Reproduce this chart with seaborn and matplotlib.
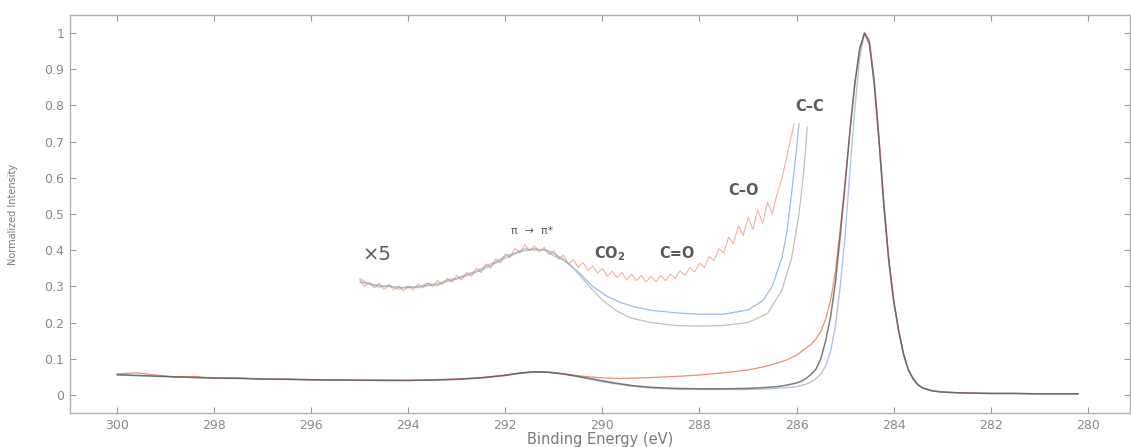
import matplotlib
matplotlib.use("Agg")
import matplotlib.pyplot as plt
import seaborn as sns
import pandas as pd

# ---------------- data ----------------
be_main = [300.0, 299.6, 299.2, 298.8, 298.4, 298.0, 297.5, 297.0, 296.5, 296.0,
           295.5, 295.0, 294.5, 294.0, 293.5, 293.0, 292.5, 292.0, 291.7, 291.4,
           291.1, 290.8, 290.5, 290.2, 290.0, 289.7, 289.4, 289.0, 288.5, 288.0,
           287.5, 287.0, 286.7, 286.4, 286.2, 286.0, 285.9, 285.8, 285.7, 285.6,
           285.5, 285.4, 285.3, 285.2, 285.1, 285.0, 284.9, 284.8, 284.7, 284.6,
           284.5, 284.4, 284.3, 284.2, 284.1, 284.0, 283.9, 283.8, 283.7, 283.6,
           283.5, 283.4, 283.2, 283.0, 282.7, 282.4, 282.0, 281.5, 281.0, 280.5,
           280.2]

grey_main = [0.056, 0.054, 0.052, 0.050, 0.048, 0.047, 0.046, 0.044, 0.043, 0.042,
             0.041, 0.041, 0.040, 0.040, 0.041, 0.043, 0.047, 0.054, 0.060, 0.064,
             0.063, 0.058, 0.051, 0.044, 0.039, 0.032, 0.026, 0.021, 0.018, 0.017,
             0.017, 0.018, 0.020, 0.023, 0.027, 0.033, 0.038, 0.046, 0.057, 0.071,
             0.100, 0.150, 0.215, 0.310, 0.440, 0.580, 0.730, 0.860, 0.955, 1.000,
             0.970, 0.860, 0.700, 0.520, 0.370, 0.260, 0.180, 0.115, 0.070, 0.045,
             0.028, 0.019, 0.011, 0.008, 0.006, 0.005, 0.004, 0.004, 0.003, 0.003,
             0.003]

red_main = [0.058, 0.061, 0.055, 0.049, 0.051, 0.046, 0.047, 0.043, 0.044, 0.041,
            0.042, 0.040, 0.041, 0.040, 0.042, 0.044, 0.048, 0.055, 0.061, 0.064,
            0.062, 0.058, 0.053, 0.049, 0.047, 0.046, 0.046, 0.048, 0.051, 0.055,
            0.061, 0.069, 0.077, 0.088, 0.097, 0.110, 0.120, 0.130, 0.140, 0.155,
            0.175, 0.210, 0.260, 0.340, 0.460, 0.590, 0.730, 0.860, 0.960, 1.000,
            0.980, 0.870, 0.710, 0.530, 0.380, 0.265, 0.180, 0.115, 0.070, 0.045,
            0.028, 0.019, 0.011, 0.008, 0.006, 0.005, 0.004, 0.004, 0.003, 0.003,
            0.003]

blue_main = [0.055, 0.053, 0.051, 0.050, 0.048, 0.046, 0.045, 0.044, 0.043, 0.042,
             0.041, 0.040, 0.040, 0.040, 0.041, 0.043, 0.047, 0.054, 0.060, 0.063,
             0.062, 0.057, 0.050, 0.042, 0.036, 0.030, 0.024, 0.019, 0.016, 0.015,
             0.015, 0.015, 0.016, 0.018, 0.020, 0.023, 0.026, 0.030, 0.036, 0.045,
             0.058, 0.080, 0.120, 0.190, 0.300, 0.440, 0.620, 0.790, 0.930, 1.000,
             0.980, 0.870, 0.700, 0.520, 0.370, 0.260, 0.180, 0.115, 0.070, 0.045,
             0.028, 0.019, 0.011, 0.008, 0.006, 0.005, 0.004, 0.004, 0.003, 0.003,
             0.003]

be_red_x5 = [295.0, 294.9, 294.8, 294.7, 294.6, 294.5, 294.4, 294.3, 294.2, 294.1,
             294.0, 293.9, 293.8, 293.7, 293.6, 293.5, 293.4, 293.3, 293.2, 293.1,
             293.0, 292.9, 292.8, 292.7, 292.6, 292.5, 292.4, 292.3, 292.2, 292.1,
             292.0, 291.9, 291.8, 291.7, 291.6, 291.5, 291.4, 291.3, 291.2, 291.1,
             291.0, 290.9, 290.8, 290.7, 290.6, 290.5, 290.4, 290.3, 290.2, 290.1,
             290.0, 289.9, 289.8, 289.7, 289.6, 289.5, 289.4, 289.3, 289.2, 289.1,
             289.0, 288.9, 288.8, 288.7, 288.6, 288.5, 288.4, 288.3, 288.2, 288.1,
             288.0, 287.9, 287.8, 287.7, 287.6, 287.5, 287.4, 287.3, 287.2, 287.1,
             287.0, 286.9, 286.8, 286.7, 286.6, 286.5, 286.4, 286.3, 286.2, 286.1,
             286.05]
red_x5 = [0.318, 0.300, 0.312, 0.296, 0.309, 0.292, 0.305, 0.290, 0.301, 0.288,
          0.300, 0.291, 0.306, 0.296, 0.310, 0.300, 0.316, 0.305, 0.322, 0.311,
          0.330, 0.318, 0.338, 0.328, 0.350, 0.338, 0.362, 0.350, 0.376, 0.365,
          0.390, 0.380, 0.405, 0.392, 0.415, 0.398, 0.412, 0.396, 0.408, 0.388,
          0.398, 0.376, 0.386, 0.362, 0.374, 0.352, 0.366, 0.344, 0.356, 0.336,
          0.350, 0.328, 0.342, 0.324, 0.338, 0.318, 0.334, 0.316, 0.330, 0.312,
          0.328, 0.313, 0.330, 0.316, 0.334, 0.322, 0.343, 0.330, 0.352, 0.340,
          0.364, 0.352, 0.382, 0.372, 0.404, 0.392, 0.436, 0.418, 0.468, 0.440,
          0.490, 0.458, 0.512, 0.474, 0.532, 0.500, 0.556, 0.600, 0.660, 0.720,
          0.750]

be_grey_x5 = [295.0, 294.8, 294.6, 294.4, 294.2, 294.0, 293.8, 293.6, 293.4, 293.2,
              293.0, 292.8, 292.6, 292.4, 292.2, 292.0, 291.8, 291.6, 291.4, 291.2,
              291.0, 290.8, 290.6, 290.4, 290.2, 290.0, 289.7, 289.4, 289.0, 288.5,
              288.0, 287.5, 287.0, 286.6, 286.3, 286.1, 285.95, 285.85, 285.78]
grey_x5 = [0.322, 0.305, 0.298, 0.303, 0.292, 0.300, 0.296, 0.308, 0.302, 0.318,
           0.322, 0.334, 0.342, 0.356, 0.368, 0.384, 0.392, 0.404, 0.400, 0.402,
           0.384, 0.372, 0.350, 0.320, 0.290, 0.262, 0.232, 0.212, 0.200, 0.192,
           0.190, 0.192, 0.200, 0.225, 0.290, 0.380, 0.500, 0.620, 0.740]

be_blue_x5 = [295.0, 294.5, 294.0, 293.5, 293.0, 292.5, 292.0, 291.7, 291.4, 291.1,
              290.8, 290.5, 290.2, 289.9, 289.6, 289.3, 289.0, 288.5, 288.0, 287.5,
              287.0, 286.7, 286.5, 286.3, 286.2, 286.1, 286.0, 285.95]
blue_x5 = [0.312, 0.300, 0.296, 0.304, 0.320, 0.344, 0.378, 0.396, 0.404, 0.398,
           0.375, 0.340, 0.300, 0.272, 0.254, 0.242, 0.234, 0.227, 0.223, 0.223,
           0.235, 0.260, 0.300, 0.380, 0.450, 0.560, 0.680, 0.750]

x_ticks = [300, 298, 296, 294, 292, 290, 288, 286, 284, 282, 280]
y_ticks = [0, 0.1, 0.2, 0.3, 0.4, 0.5, 0.6, 0.7, 0.8, 0.9, 1]
y_tick_labels = ["0", "0.1", "0.2", "0.3", "0.4", "0.5", "0.6", "0.7", "0.8", "0.9", "1"]

labels = [
    ("×5", 294.64, 0.387, 14, "normal"),
    ("π  →  π*", 291.45, 0.452, 8, "normal"),
    ("CO$_\\mathbf{2}$", 289.85, 0.39, 10.5, "bold"),
    ("C=O", 288.47, 0.39, 10.5, "bold"),
    ("C–O", 287.1, 0.566, 10.5, "bold"),
    ("C–C", 285.73, 0.796, 10.5, "bold"),
]

# ---------------- plot ----------------
sns.set_theme(style="ticks")
plt.rcParams["font.family"] = ["DejaVu Sans"]

fig = plt.figure(figsize=(11.31, 4.47), dpi=100)
ax = fig.add_axes([70 / 1131, 34 / 447, 1060 / 1131, 398 / 447])

RED = "#e8734f"
BLUE = "#7aa7db"
GREY = "#5c5c5c"
LGREY = "#b9b9b9"

def draw(x, y, color, lw, alpha):
    df = pd.DataFrame({"be": x, "I": y})
    sns.lineplot(data=df, x="be", y="I", ax=ax, color=color, lw=lw,
                 alpha=alpha, estimator=None, sort=False)

draw(be_blue_x5, blue_x5, BLUE, 0.9, 0.75)
draw(be_grey_x5, grey_x5, LGREY, 0.9, 0.9)
draw(be_red_x5, red_x5, RED, 0.8, 0.55)
draw(be_main, blue_main, "#a9bfdc", 1.0, 0.9)
draw(be_main, red_main, RED, 0.9, 0.8)
draw(be_main, grey_main, GREY, 1.1, 0.8)

for txt, x, y, fs, fw in labels:
    ax.text(x, y, txt, ha="center", va="center", fontsize=fs,
            fontweight=fw, color="#5a5a5a")

ax.set_xlim(300.97, 279.13)
ax.set_ylim(-0.05, 1.05)
ax.set_xticks(x_ticks)
ax.set_xticklabels([str(t) for t in x_ticks])
ax.set_yticks(y_ticks)
ax.set_yticklabels(y_tick_labels)
ax.tick_params(direction="in", length=4, width=0.8, color="#9a9a9a",
               labelsize=9, labelcolor="#8a8a8a", top=True, right=True, pad=4)
for s in ax.spines.values():
    s.set_color("#b0b0b0")
    s.set_linewidth(1.0)

ax.set_xlabel("Binding Energy (eV)", fontsize=10.5, color="#7a7a7a")
ax.set_ylabel("Normalized Intensity", fontsize=7, color="#7a7a7a")
ax.xaxis.set_label_coords(0.5, -0.047)
ax.yaxis.set_label_coords((18 - 70) / 1060, 0.5)

fig.savefig("out.png", dpi=100)
